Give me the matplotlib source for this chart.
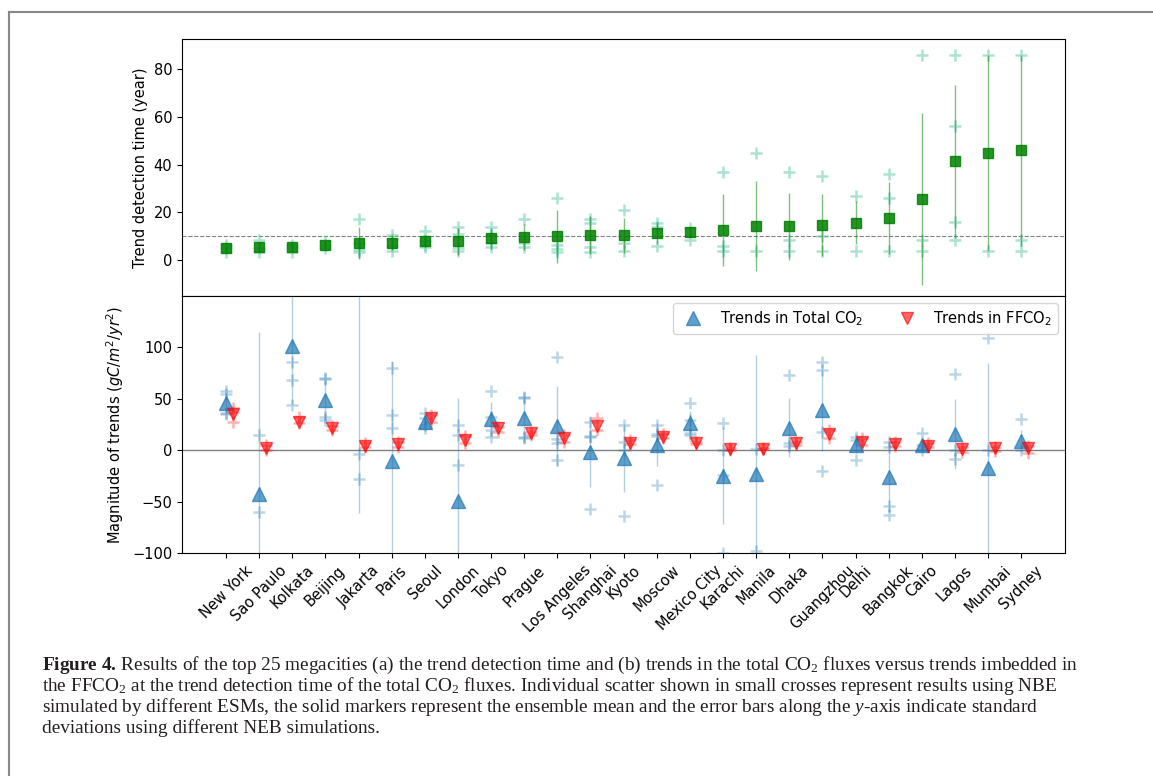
import numpy as np
import matplotlib
matplotlib.use("Agg")
import matplotlib.pyplot as plt
from matplotlib.lines import Line2D

# cities, ordered by trend detection time
cities = ["New York", "Sao Paulo", "Kolkata", "Beijing", "Jakarta", "Paris", "Seoul",
          "London", "Tokyo", "Prague", "Los Angeles", "Shanghai", "Kyoto", "Moscow",
          "Mexico City", "Karachi", "Manila", "Dhaka", "Guangzhou", "Delhi", "Bangkok",
          "Cairo", "Lagos", "Mumbai", "Sydney"]

# (a) trend detection time (year)
detect_mean = [4.9, 5.3, 5.3, 6.3, 7.3, 7.3, 7.8, 7.8, 9.1, 9.8, 10.0, 10.4, 10.3,
               11.3, 11.7, 12.7, 14.2, 14.2, 14.7, 15.6, 17.5, 25.4, 41.3, 44.9, 46.0]
detect_std = [1.5, 2.0, 1.5, 1.5, 6.7, 3.0, 2.5, 5.5, 4.5, 5.5, 11.0, 8.0, 7.5,
              4.5, 2.0, 15.0, 18.7, 14.0, 13.0, 9.0, 15.0, 36.0, 32.0, 41.0, 40.0]
detect_members = [[3.5, 5.0, 6.5], [3.5, 5.0, 8.4], [3.5, 5.0, 6.5], [5.0, 6.5, 8.0],
                  [17.0, 4.2, 3.5, 7.0], [4.0, 9.0, 10.5, 6.0], [12.0, 6.5, 5.5, 8.0],
                  [14.0, 11.0, 5.0, 4.0], [14.0, 10.5, 7.0, 5.5], [17.0, 9.0, 7.0, 5.5],
                  [26.0, 6.5, 4.5, 3.5], [17.0, 15.5, 5.5, 3.5], [21.0, 7.0, 4.0],
                  [15.5, 14.0, 6.0], [13.5, 8.5], [37.0, 6.0, 4.0], [45.0, 4.0],
                  [37.0, 8.5, 4.0], [35.0, 10.0, 4.0], [27.0, 4.0], [36.0, 26.0, 4.0],
                  [86.0, 8.5, 4.0], [86.0, 56.0, 16.0, 8.5], [86.0, 4.0], [86.0, 8.5, 4.0]]

# (b) trends in total CO2 and FFCO2 (gC/m2/yr2)
total_mean = [45.5, -42.3, 101.3, 48.7, 180.0, -11.0, 27.1, -49.0, 30.0, 31.0, 23.5,
              -2.2, -7.7, 5.2, 26.0, -24.8, -23.2, 21.9, 39.0, 5.2, -26.5, 5.2, 15.5,
              -17.4, 9.0]
total_std = [10, 157, 57, 19, 241, 98, 5, 99.5, 17, 22, 39, 34, 33, 21, 12, 47, 116,
             29, 40, 8, 34, 5, 34, 102, 11]
total_members = [[58, 55, 36, 35], [15, -60], [86, 68, 44], [70.6, 69.7, 32.6, 29.4],
                 [-4, -28], [80, 34, 22], [36, 31, 24.5, 22], [24.5, 14.8, -14.8],
                 [57.7, 32.6, 19.7, 13.2], [52, 50.3, 13.2, 11.6], [90.6, 10.6, 6.8, -10],
                 [27.7, 13.9, -57.7, 13], [24.5, 8.4, -64.2, 0.5], [24.5, 15.8, -33.5, 14],
                 [45.5, 29.4, 16.5, 14.8], [26.8, 0, -23.9, -99.7], [1, -98],
                 [73.5, 6.8, 4.2], [85.8, 77.7, 18, -20.6], [13, 10, -10],
                 [7.7, -54.5, -62.6, 3.4], [16.5, 5.2, 0], [73.9, 0, -8.7], [109, 0],
                 [30, 0]]
ff_mean = [34.8, 1.9, 27.7, 21.3, 4.2, 6.1, 31.6, 10.0, 21.3, 16.5, 11.6, 23.8, 7.4,
           13.2, 7.4, 1.0, 1.6, 6.8, 15.8, 8.4, 5.8, 4.5, 1.0, 1.9, 1.9]
ff_members = [[40.6, 27.7, 37.4], [5.2, 0], [32.6, 26.8], [23.5, 19.7], [6.8, 3.5],
              [8.4, 3.5], [34.2, 27.7], [13.9, 7.4], [22.9, 18], [18, 14.8], [14.8, 8.4],
              [31.6, 19.7], [10, 6], [15.8, 11.6], [8.4, 6.1], [1.9, 0], [1, 1.9],
              [8.4, 5.2], [19.7, 11.6], [11.6, 5.2], [8.4, 4.2], [6.8, 3.5], [3.5, -1.3],
              [3.5, -0.5], [4.2, -2.3]]

# caption font for math parts
plt.rcParams["mathtext.rm"] = "Liberation Serif"
plt.rcParams["mathtext.it"] = "Liberation Serif:italic"
plt.rcParams["mathtext.bf"] = "Liberation Serif:bold"

fig = plt.figure(figsize=(11.53, 7.76), dpi=100)
ax1 = fig.add_axes([0.1578, 0.6186, 0.7658, 0.3311])
ax2 = fig.add_axes([0.1578, 0.2874, 0.7658, 0.3312])

x = np.arange(len(cities))
off = 0.2

# --- panel (a)
ax1.axhline(10, color="gray", ls="--", lw=0.8)
for i, vals in enumerate(detect_members):
    ax1.plot([x[i]] * len(vals), vals, "+", color="mediumaquamarine", alpha=0.55,
             ms=8, mew=1.8)
ax1.errorbar(x, detect_mean, yerr=detect_std, fmt="none", ecolor="green",
             elinewidth=1, alpha=0.5)
ax1.plot(x, detect_mean, "s", color="green", alpha=0.85, ms=7)
ax1.set_xlim(-1.33, 25.32)
ax1.set_ylim(-15, 92.5)
ax1.set_yticks([0, 20, 40, 60, 80])
ax1.tick_params(axis="x", bottom=False, labelbottom=False)
ax1.tick_params(axis="y", labelsize=10.5)
ax1.set_ylabel("Trend detection time (year)", fontsize=10.5)

# --- panel (b)
ax2.axhline(0, color="gray", lw=1)
ax2.errorbar(x, total_mean, yerr=total_std, fmt="none", ecolor="#1f77b4",
             elinewidth=1, alpha=0.35)
for i, vals in enumerate(total_members):
    ax2.plot([x[i]] * len(vals), vals, "+", color="#1f77b4", alpha=0.3, ms=8, mew=1.8)
for i, vals in enumerate(ff_members):
    ax2.plot([x[i] + off] * len(vals), vals, "+", color="red", alpha=0.3, ms=8, mew=1.8)
h1, = ax2.plot(x, total_mean, "^", color="#1f77b4", alpha=0.7, ms=9.5,
               label="Trends in Total CO$_2$")
h2, = ax2.plot(x + off, ff_mean, "v", color="red", alpha=0.6, ms=8.5,
               label="Trends in FFCO$_2$")
ax2.set_xlim(-1.33, 25.32)
ax2.set_ylim(-100, 150)
ax2.set_yticks([-100, -50, 0, 50, 100])
ax2.set_xticks(x)
ax2.set_xticklabels(cities, rotation=45)
ax2.tick_params(labelsize=10.5)
ax2.set_ylabel("Magnitude of trends ($gC/m^2/yr^2$)", fontsize=10.5)
ax2.legend(handles=[h1, h2], loc="upper right", ncol=2, fontsize=10.5)

# page frame
fig.add_artist(Line2D([9 / 1153, 1], [1 - 12 / 776] * 2, transform=fig.transFigure,
                      color="#888888", lw=1.5))
fig.add_artist(Line2D([9 / 1153] * 2, [0, 1 - 12 / 776], transform=fig.transFigure,
                      color="#888888", lw=1.5))

# caption
caption = [
    r"$\mathbf{Figure\ 4.\,}$Results of the top 25 megacities (a) the trend detection time "
    r"and (b) trends in the total CO$_2$ fluxes versus trends imbedded in",
    r"the FFCO$_2$ at the trend detection time of the total CO$_2$ fluxes. Individual "
    r"scatter shown in small crosses represent results using NBE",
    r"simulated by different ESMs, the solid markers represent the ensemble mean and "
    r"the error bars along the $y$-axis indicate standard",
    r"deviations using different NEB simulations.",
]
baselines = [670, 691, 712, 733]
texts = []
for line, yb in zip(caption, baselines):
    t = fig.text(42 / 1153, 1 - yb / 776, line, family="Liberation Serif",
                 math_fontfamily="custom", fontsize=12, va="baseline", ha="left",
                 color="#231f20")
    texts.append(t)

# fit caption size to the first line's width
fig.canvas.draw()
w = texts[0].get_window_extent().width
size = 12 * (1077 - 42) / w
for t in texts:
    t.set_fontsize(size)

fig.savefig("out.png", dpi=100)
